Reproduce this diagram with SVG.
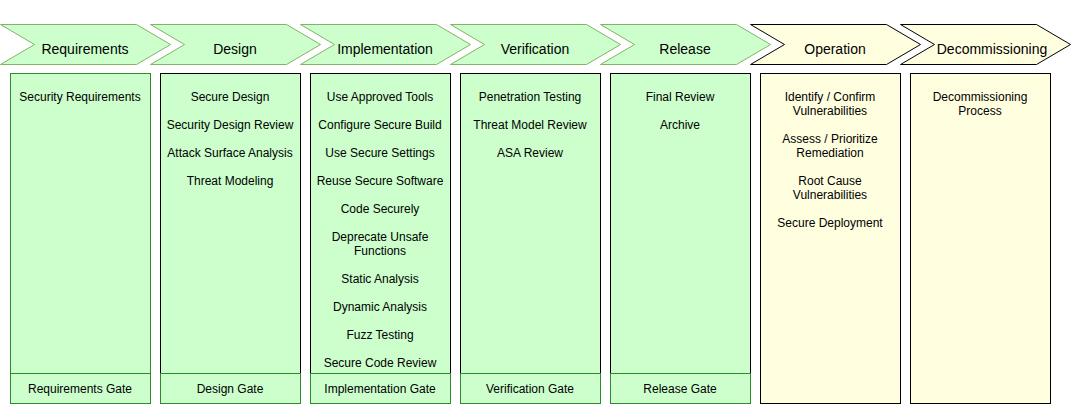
<svg xmlns="http://www.w3.org/2000/svg" width="1071" height="405" viewBox="0 0 1071 405">
<style>
.bg{fill:#ffffff}
.ag{fill:#CCFFCC;stroke:#82B366;stroke-width:1}
.ay{fill:#FFFFE0;stroke:#000000;stroke-width:1}
.cg{fill:#CCFFCC;stroke:#000000;stroke-width:1}
.cg1{fill:#CCFFCC;stroke:#2D8A2D;stroke-width:1}
.cy{fill:#FFFFE0;stroke:#000000;stroke-width:1}
.gate{fill:#CCFFCC;stroke:#2D8A2D;stroke-width:1}
.t14{font-family:"Liberation Sans",Arial,Helvetica,sans-serif;font-size:14px;fill:#000;text-anchor:middle}
.t12{font-family:"Liberation Sans",Arial,Helvetica,sans-serif;font-size:12px;fill:#000;text-anchor:middle}
</style>
<rect class="bg" x="0" y="0" width="1071" height="405"/>
<g id="phases">
<g id="phase-requirements"><path class="ag" d="M0.5,24.5 H136.5 L170.5,44.5 L136.5,64.5 H0.5 L34.5,44.5 Z"/><text class="t14" x="85" y="54">Requirements</text></g>
<g id="phase-design"><path class="ag" d="M150.5,24.5 H286.5 L320.5,44.5 L286.5,64.5 H150.5 L184.5,44.5 Z"/><text class="t14" x="235" y="54">Design</text></g>
<g id="phase-implementation"><path class="ag" d="M300.5,24.5 H436.5 L470.5,44.5 L436.5,64.5 H300.5 L334.5,44.5 Z"/><text class="t14" x="385" y="54">Implementation</text></g>
<g id="phase-verification"><path class="ag" d="M450.5,24.5 H586.5 L620.5,44.5 L586.5,64.5 H450.5 L484.5,44.5 Z"/><text class="t14" x="535" y="54">Verification</text></g>
<g id="phase-release"><path class="ag" d="M600.5,24.5 H736.5 L770.5,44.5 L736.5,64.5 H600.5 L634.5,44.5 Z"/><text class="t14" x="685" y="54">Release</text></g>
<g id="phase-operation"><path class="ay" d="M750.5,24.5 H886.5 L920.5,44.5 L886.5,64.5 H750.5 L784.5,44.5 Z"/><text class="t14" x="835" y="54">Operation</text></g>
<g id="phase-decommissioning"><path class="ay" d="M900.5,24.5 H1036.5 L1070.5,44.5 L1036.5,64.5 H900.5 L934.5,44.5 Z"/><text class="t14" x="992" y="54">Decommissioning</text></g>
</g>
<g id="columns">
<g id="col-requirements"><rect class="cg1" x="10.5" y="73.5" width="140" height="330"/>
<text class="t12" x="80" y="101">Security Requirements</text></g>
<g id="col-design"><rect class="cg" x="160.5" y="73.5" width="140" height="330"/>
<text class="t12" x="230" y="101">Secure Design</text>
<text class="t12" x="230" y="129">Security Design Review</text>
<text class="t12" x="230" y="157">Attack Surface Analysis</text>
<text class="t12" x="230" y="185">Threat Modeling</text></g>
<g id="col-implementation"><rect class="cg" x="310.5" y="73.5" width="140" height="330"/>
<text class="t12" x="380" y="101">Use Approved Tools</text>
<text class="t12" x="380" y="129">Configure Secure Build</text>
<text class="t12" x="380" y="157">Use Secure Settings</text>
<text class="t12" x="380" y="185">Reuse Secure Software</text>
<text class="t12" x="380" y="213">Code Securely</text>
<text class="t12" x="380" y="241">Deprecate Unsafe</text>
<text class="t12" x="380" y="255">Functions</text>
<text class="t12" x="380" y="283">Static Analysis</text>
<text class="t12" x="380" y="311">Dynamic Analysis</text>
<text class="t12" x="380" y="339">Fuzz Testing</text>
<text class="t12" x="380" y="367">Secure Code Review</text></g>
<g id="col-verification"><rect class="cg" x="460.5" y="73.5" width="140" height="330"/>
<text class="t12" x="530" y="101">Penetration Testing</text>
<text class="t12" x="530" y="129">Threat Model Review</text>
<text class="t12" x="530" y="157">ASA Review</text></g>
<g id="col-release"><rect class="cg" x="610.5" y="73.5" width="140" height="330"/>
<text class="t12" x="680" y="101">Final Review</text>
<text class="t12" x="680" y="129">Archive</text></g>
<g id="col-operation"><rect class="cy" x="760.5" y="73.5" width="140" height="330"/>
<text class="t12" x="830" y="101">Identify / Confirm</text>
<text class="t12" x="830" y="115">Vulnerabilities</text>
<text class="t12" x="830" y="143">Assess / Prioritize</text>
<text class="t12" x="830" y="157">Remediation</text>
<text class="t12" x="830" y="185">Root Cause</text>
<text class="t12" x="830" y="199">Vulnerabilities</text>
<text class="t12" x="830" y="227">Secure Deployment</text></g>
<g id="col-decommissioning"><rect class="cy" x="910.5" y="73.5" width="140" height="330"/>
<text class="t12" x="980" y="101">Decommissioning</text>
<text class="t12" x="980" y="115">Process</text></g>
</g>
<g id="gates">
<g id="gate-requirements"><rect class="gate" x="10.5" y="373.5" width="140" height="30"/><text class="t12" x="80" y="393">Requirements Gate</text></g>
<g id="gate-design"><rect class="gate" x="160.5" y="373.5" width="140" height="30"/><text class="t12" x="230" y="393">Design Gate</text></g>
<g id="gate-implementation"><rect class="gate" x="310.5" y="373.5" width="140" height="30"/><text class="t12" x="380" y="393">Implementation Gate</text></g>
<g id="gate-verification"><rect class="gate" x="460.5" y="373.5" width="140" height="30"/><text class="t12" x="530" y="393">Verification Gate</text></g>
<g id="gate-release"><rect class="gate" x="610.5" y="373.5" width="140" height="30"/><text class="t12" x="680" y="393">Release Gate</text></g>
</g>
<g id="connectors"></g>
</svg>
